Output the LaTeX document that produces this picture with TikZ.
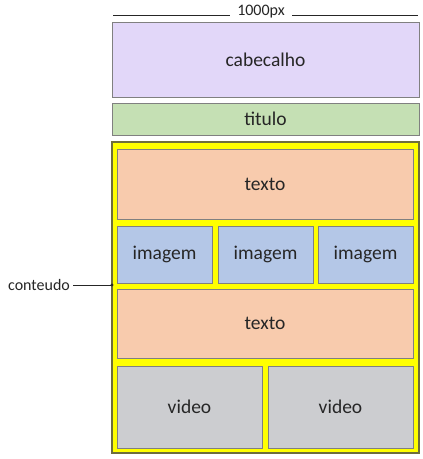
\documentclass[tikz,border=0pt]{standalone}
\usepackage{fontspec}
\setmainfont{Carlito}
\definecolor{lav}{RGB}{226,215,249}
\definecolor{grn}{RGB}{197,224,180}
\definecolor{pch}{RGB}{248,203,173}
\definecolor{blu}{RGB}{180,199,231}
\definecolor{gry}{RGB}{204,205,208}
\definecolor{ylw}{RGB}{255,255,0}
\definecolor{edge}{RGB}{128,128,128}
\definecolor{yedge}{RGB}{110,110,60}
\definecolor{txt}{RGB}{38,38,38}
\tikzset{
  blk/.style={draw=edge, line width=0.9pt, inner sep=0pt, outer sep=0pt, text=txt, font=\fontsize{19.5}{22}\selectfont},
  lbl/.style={inner sep=0pt, text=txt, font=\fontsize{16}{18}\selectfont},
  rule/.style={draw=txt, line width=0.9pt}
}
\begin{document}
\begin{tikzpicture}[x=1pt,y=-1pt]
\useasboundingbox (0,0) rectangle (423,459);
\fill[white] (0,0) rectangle (423,459);
% header ruler
\node[lbl, anchor=base] (px) at (261,15) {1000px};
\coordinate (ua) at (113,15); \coordinate (ub) at (230,15);
\coordinate (uc) at (292,15); \coordinate (ud) at (418,15);
\draw[rule] (ua) -- (ub);
\draw[rule] (uc) -- (ud);
% blocks
\node[blk, fill=lav, minimum width=307, minimum height=75] (cab) at (265.5,59.5) {cabecalho};
\node[blk, fill=grn, minimum width=307, minimum height=32] (tit) at (265.5,119) {titulo};
\node[draw=yedge, line width=1.4pt, fill=ylw, inner sep=0pt, outer sep=0pt, minimum width=307, minimum height=311] (cont) at (265.5,297.5) {};
\node[blk, fill=pch, minimum width=296, minimum height=70] (tx1) at (265,184) {texto};
\node[blk, fill=blu, minimum width=95, minimum height=57] (im1) at (164.5,254.5) {imagem};
\node[blk, fill=blu, minimum width=95, minimum height=57] (im2) at (265.5,254.5) {imagem};
\node[blk, fill=blu, minimum width=95, minimum height=57] (im3) at (365.5,254.5) {imagem};
\node[blk, fill=pch, minimum width=296, minimum height=69] (tx2) at (265,323.5) {texto};
\node[blk, fill=gry, minimum width=145, minimum height=82] (vd1) at (189.5,407) {video};
\node[blk, fill=gry, minimum width=145, minimum height=82] (vd2) at (340.5,407) {video};
% conteudo label
\node[lbl] (ct) at (39,285) {conteudo};
\coordinate (cp) at (112,285);
\draw[draw=txt, line width=0.6pt] (ct.east) ++(3,0) -- (cp);
\fill[txt] (cp) circle (1.6);
\end{tikzpicture}
\end{document}
